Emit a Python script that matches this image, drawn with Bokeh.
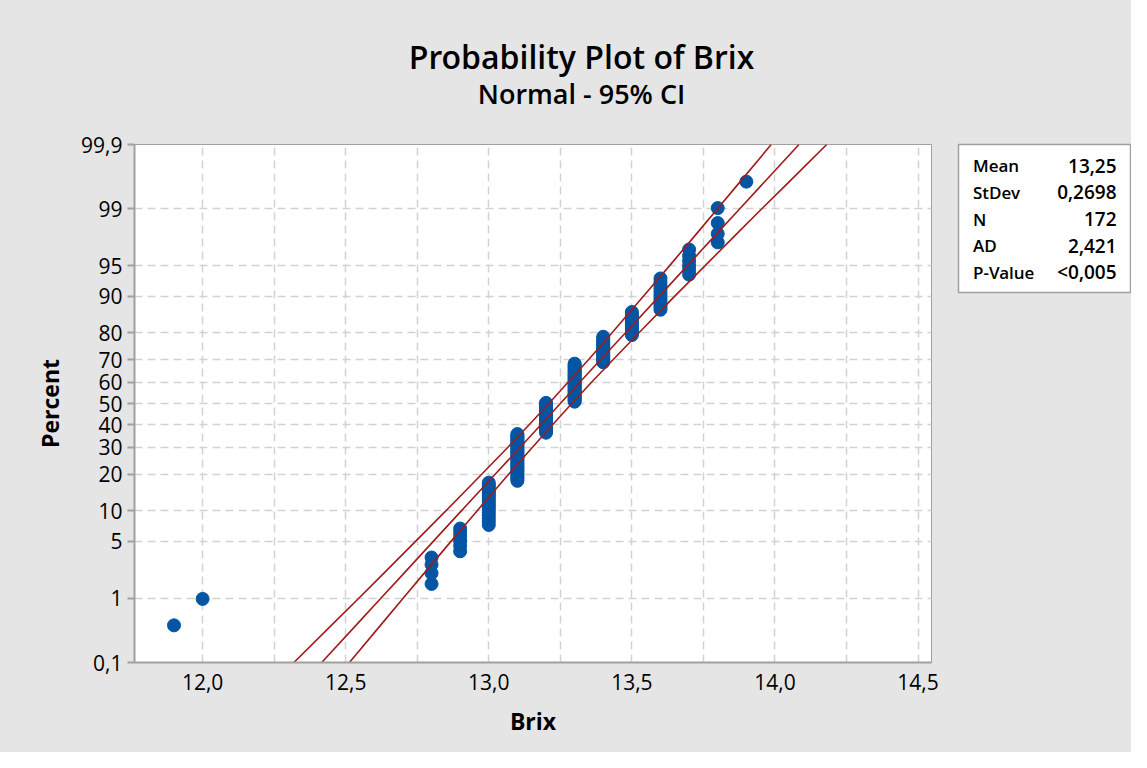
from statistics import NormalDist
from bokeh.plotting import figure
from bokeh.layouts import column, row
from bokeh.models import Range1d, FixedTicker
from bokeh.core.properties import value
from bokeh.embed import file_html
from bokeh.resources import INLINE

# ---------------- data ----------------
brix_values = [11.9, 12.0, 12.8, 12.9, 13.0, 13.1, 13.2, 13.3, 13.4, 13.5, 13.6, 13.7, 13.8, 13.9]
brix_counts = [1, 1, 4, 6, 18, 32, 25, 31, 18, 13, 12, 6, 4, 1]

line_percents = [0.1, 0.5, 1, 2, 5, 10, 20, 30, 40, 50, 60, 70, 80, 90, 95, 98, 99, 99.5, 99.9]
fit_brix = [12.416, 12.555, 12.622, 12.696, 12.806, 12.904, 13.023, 13.109, 13.182, 13.250,
            13.318, 13.391, 13.477, 13.596, 13.694, 13.804, 13.878, 13.945, 14.084]
lower_brix = [12.319, 12.471, 12.545, 12.625, 12.744, 12.850, 12.976, 13.066, 13.141, 13.210,
              13.277, 13.349, 13.430, 13.541, 13.632, 13.733, 13.800, 13.861, 13.987]
upper_brix = [12.513, 12.639, 12.700, 12.767, 12.868, 12.959, 13.070, 13.152, 13.223, 13.290,
              13.359, 13.435, 13.524, 13.650, 13.756, 13.875, 13.955, 14.029, 14.181]

percent_ticks = [0.1, 1, 5, 10, 20, 30, 40, 50, 60, 70, 80, 90, 95, 99, 99.9]
percent_labels = ["0,1", "1", "5", "10", "20", "30", "40", "50", "60", "70", "80", "90", "95", "99", "99,9"]
brix_ticks = [12.0, 12.5, 13.0, 13.5, 14.0, 14.5]
brix_labels = ["12,0", "12,5", "13,0", "13,5", "14,0", "14,5"]
brix_grid = [12.0, 12.25, 12.5, 12.75, 13.0, 13.25, 13.5, 13.75, 14.0, 14.25, 14.5]

stat_names = ["Mean", "StDev", "N", "AD", "P-Value"]
stat_values = ["13,25", "0,2698", "172", "2,421", "<0,005"]

title_text = "Probability Plot of Brix"
subtitle_text = "Normal - 95% CI"

# ---------------- transforms ----------------
nd = NormalDist()


def pz(pct):
    return round(nd.inv_cdf(pct / 100.0), 6)


n = sum(brix_counts)
pts_x, pts_y = [], []
rank = 0
for v, c in zip(brix_values, brix_counts):
    for _ in range(c):
        rank += 1
        pts_x.append(v)
        pts_y.append(nd.inv_cdf((rank - 0.3) / (n + 0.4)))

line_z = [pz(p) for p in line_percents]
tick_z = [pz(p) for p in percent_ticks]

FONT = "Open Sans"
SEMI = "'Open Sans SemiBold', 'Open Sans'"
BG = "#e5e5e5"
HEAD_H = 120
BG_STYLE = {"background-color": BG}

# ---------------- header (titles) ----------------
head = figure(frame_width=1131, frame_height=HEAD_H,
              min_border_left=0, min_border_right=0, min_border_top=0, min_border_bottom=0,
              x_range=Range1d(0, 1131), y_range=Range1d(0, HEAD_H),
              x_axis_location=None, y_axis_location=None,
              output_backend="svg", toolbar_location=None,
              background_fill_color=BG, border_fill_color=BG, styles=BG_STYLE)
head.grid.visible = False
head.outline_line_color = None
head.text(x=[581], y=[HEAD_H - 56], text=[title_text], text_align="center",
          text_baseline="middle", text_font=value(SEMI), text_font_size="32px",
          text_color="black")
head.text(x=[581], y=[HEAD_H - 93], text=[subtitle_text], text_align="center",
          text_baseline="middle", text_font=value(SEMI), text_font_size="27px",
          text_color="black")

# ---------------- main plot ----------------
p = figure(
    frame_width=797, frame_height=518,
    min_border_left=134, min_border_right=14, min_border_top=24, min_border_bottom=90,
    x_range=Range1d(11.762, 14.547), y_range=Range1d(tick_z[0], tick_z[-1]),
    output_backend="svg", toolbar_location=None,
    background_fill_color="white", border_fill_color=BG, styles=BG_STYLE,
)
p.outline_line_color = "#a0a0a0"
p.outline_line_width = 1

p.xgrid.ticker = FixedTicker(ticks=brix_grid)
p.ygrid.ticker = FixedTicker(ticks=tick_z)
for g in (p.xgrid, p.ygrid):
    g.grid_line_color = "#d2d2d2"
    g.grid_line_dash = "8 5"
    g.grid_line_width = 1.5

p.xaxis.ticker = FixedTicker(ticks=brix_ticks)
p.xaxis.major_label_overrides = {t: l for t, l in zip(brix_ticks, brix_labels)}
p.yaxis.ticker = FixedTicker(ticks=tick_z)
p.yaxis.major_label_overrides = {t: l for t, l in zip(tick_z, percent_labels)}
for ax in (p.xaxis, p.yaxis):
    ax.axis_line_color = "#a0a0a0"
    ax.axis_line_width = 2
    ax.minor_tick_line_color = None
    ax.major_label_text_font = FONT
    ax.major_label_text_font_size = "21px"
    ax.major_label_text_color = "black"
    ax.axis_label_text_font = FONT
    ax.axis_label_text_font_size = "23px"
    ax.axis_label_text_font_style = "bold"
    ax.axis_label_text_color = "black"
p.xaxis.major_tick_out = 0
p.xaxis.major_tick_in = 0
p.xaxis.major_label_standoff = 11
p.xaxis.axis_label = "Brix"
p.xaxis.axis_label_standoff = 12
p.yaxis.major_tick_out = 7
p.yaxis.major_tick_in = 0
p.yaxis.major_tick_line_color = "#a0a0a0"
p.yaxis.major_tick_line_width = 2
p.yaxis.major_label_standoff = 5
p.yaxis.axis_label = "Percent"
p.yaxis.axis_label_standoff = 12

p.scatter(pts_x, pts_y, size=13, color="#0455a4")
for xs in (lower_brix, fit_brix, upper_brix):
    p.line(xs, line_z, line_color="#a01c1c", line_width=1.6)

# ---------------- statistics box ----------------
BOX_W, BOX_H = 172, 148
stats = figure(frame_width=BOX_W, frame_height=BOX_H,
               min_border_left=13, min_border_right=1, min_border_top=23,
               min_border_bottom=632 - 23 - BOX_H,
               x_range=Range1d(0, BOX_W), y_range=Range1d(0, BOX_H),
               x_axis_location=None, y_axis_location=None,
               output_backend="svg", toolbar_location=None,
               background_fill_color="white", border_fill_color=BG, styles=BG_STYLE)
stats.grid.visible = False
stats.outline_line_color = "#a0a0a0"
stats.outline_line_width = 1.5
row_y = [BOX_H - 21.3 - i * 26.6 for i in range(len(stat_names))]
stats.text(x=[14.5] * len(stat_names), y=row_y, text=stat_names, text_align="left",
           text_baseline="middle", text_font=value(SEMI), text_font_size="17px",
           text_color="black")
stats.text(x=[158] * len(stat_values), y=row_y, text=stat_values, text_align="right",
           text_baseline="middle", text_font=value(SEMI), text_font_size="19px",
           text_color="black")

body = row(p, stats, styles=BG_STYLE)
layout = column(head, body, styles=BG_STYLE)
open("out.html", "w").write(file_html(layout, INLINE))
